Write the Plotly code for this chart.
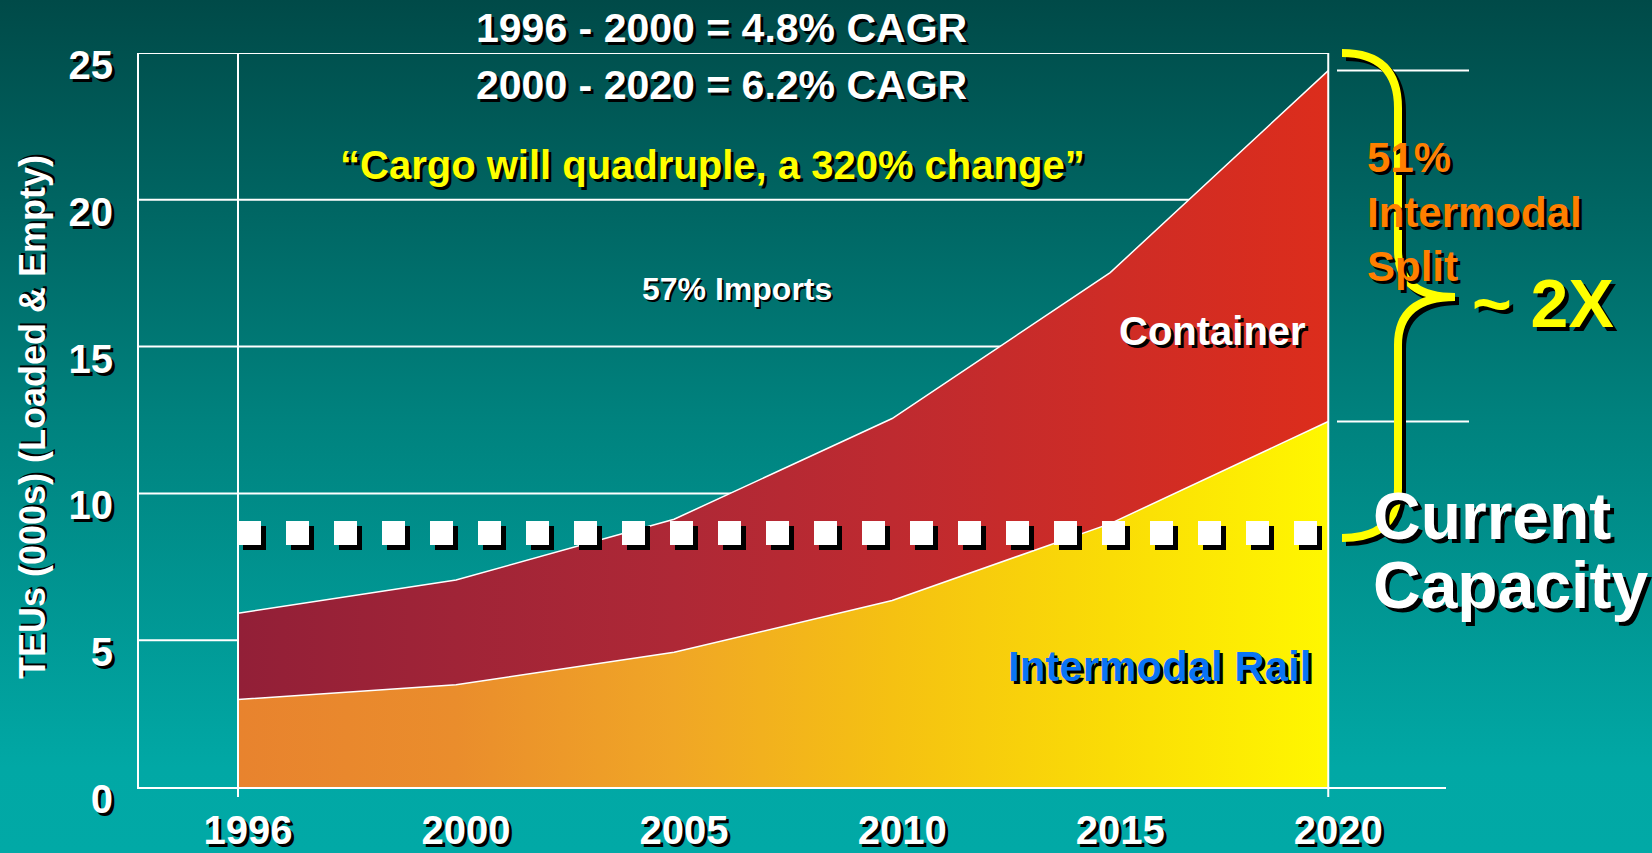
import base64
import plotly.graph_objects as go

# ---------------- data ----------------
years = ["1996", "2000", "2005", "2010", "2015", "2020"]
intermodal_rail = [2.98, 3.48, 4.59, 6.35, 8.97, 12.45]      # lower band (stack base)
container_total = [5.92, 7.05, 9.12, 12.55, 17.52, 24.40]     # top of stack
current_capacity = 8.65
y_ticks = [0, 5, 10, 15, 20, 25]

# ---------------- geometry helpers ----------------
W, H = 1652, 853
def px(x):
    return x / W
def py(y):
    return 1 - y / H

X_RANGE = [-0.454, 5.54]
Y_RANGE = [0, 25]
X_PX_PER_UNIT = (1446 - 139) / (X_RANGE[1] - X_RANGE[0])
Y_PX_PER_UNIT = (787 - 53) / (Y_RANGE[1] - Y_RANGE[0])

ARIAL = "Liberation Sans, Arial, Helvetica, sans-serif"
SH3 = "3px 3px 0px #000000"
SH4 = "4px 4px 0px #000000"

fig = go.Figure()

# ---------------- area traces ----------------
fig.add_trace(go.Scatter(
    x=years, y=intermodal_rail, mode="lines",
    line=dict(color="white", width=1.5),
    fill="tozeroy",
    fillgradient=dict(type="horizontal", colorscale=[
        [0.0, "#E8832E"], [0.2, "#EA8D2C"], [0.4, "#F0A626"],
        [0.6, "#F5C112"], [0.8, "#FADC06"], [1.0, "#FFF700"]]),
    hoverinfo="skip", showlegend=False))

fig.add_trace(go.Scatter(
    x=years, y=container_total, mode="lines",
    line=dict(color="white", width=1.5),
    fill="tonexty",
    fillgradient=dict(type="horizontal", colorscale=[
        [0.0, "#921F37"], [0.2, "#A02437"], [0.4, "#AE2836"],
        [0.6, "#BE2A30"], [0.8, "#CE2C26"], [1.0, "#DC2D1C"]]),
    hoverinfo="skip", showlegend=False))

# ---------------- background gradient ----------------
svg = (f'<svg xmlns="http://www.w3.org/2000/svg" width="{W}" height="{H}" preserveAspectRatio="none">'
       '<defs><linearGradient id="g" x1="0" y1="0" x2="0" y2="1">'
       '<stop offset="0" stop-color="#004A48"/>'
       '<stop offset="0.5" stop-color="#00837F"/>'
       '<stop offset="0.9" stop-color="#01A8A5"/>'
       '<stop offset="1" stop-color="#01A9A6"/>'
       '</linearGradient></defs>'
       '<rect width="100%" height="100%" fill="url(#g)"/></svg>')
src = "data:image/svg+xml;base64," + base64.b64encode(svg.encode()).decode()
fig.add_layout_image(dict(source=src, xref="paper", yref="paper", x=0, y=1,
                          sizex=1, sizey=1, xanchor="left", yanchor="top",
                          sizing="stretch", layer="below"))

shapes = []
last = len(years) - 1
# horizontal gridlines (below areas)
for v in y_ticks[1:]:
    shapes.append(dict(type="line", xref="x", yref="y", x0=X_RANGE[0], x1=last,
                       y0=v, y1=v, line=dict(color="white", width=2), layer="below"))
# vertical boundary lines at first / last year, with tick below axis
for i in (0, last):
    shapes.append(dict(type="line", xref="x", yref="paper", x0=i, x1=i,
                       y0=py(797), y1=py(53), line=dict(color="white", width=2), layer="above"))
# short markers right of 2020
for v in (container_total[-1], intermodal_rail[-1]):
    shapes.append(dict(type="line", xref="paper", yref="y", x0=px(1337), x1=px(1469),
                       y0=v, y1=v, line=dict(color="white", width=2), layer="above"))
# current capacity dashed line with shadow
dx = 5 / X_PX_PER_UNIT
dy = 5 / Y_PX_PER_UNIT
shapes.append(dict(type="line", xref="x", yref="y", x0=0 + dx, x1=last + dx,
                   y0=current_capacity - dy, y1=current_capacity - dy,
                   line=dict(color="black", width=24, dash="23px,25px"), layer="above"))
shapes.append(dict(type="line", xref="x", yref="y", x0=0, x1=last,
                   y0=current_capacity, y1=current_capacity,
                   line=dict(color="white", width=24, dash="23px,25px"), layer="above"))

# curly brace
def brace_path(ox=0, oy=0):
    pts = [
        ("M", [(1342, 53)]),
        ("Q", [(1398, 53), (1398, 108)]),
        ("L", [(1398, 250)]),
        ("Q", [(1398, 297), (1455, 297)]),
        ("Q", [(1398, 297), (1398, 345)]),
        ("L", [(1398, 488)]),
        ("Q", [(1398, 538), (1342, 538)]),
    ]
    s = ""
    for cmd, ps in pts:
        s += cmd + " " + " ".join(f"{px(x + ox):.5f},{py(y + oy):.5f}" for x, y in ps) + " "
    return s.strip()

shapes.append(dict(type="path", xref="paper", yref="paper", path=brace_path(4, 4),
                   line=dict(color="black", width=8), layer="above"))
shapes.append(dict(type="path", xref="paper", yref="paper", path=brace_path(),
                   line=dict(color="#FFFF00", width=8), layer="above"))

# ---------------- annotations ----------------
def ann(text, x, y, size, color="white", family=ARIAL, shadow=SH3,
        xanchor="center", yanchor="middle", textangle=0, align="center"):
    return dict(text=text, x=px(x), y=py(y), xref="paper", yref="paper",
                showarrow=False, xanchor=xanchor, yanchor=yanchor, textangle=textangle,
                align=align,
                font=dict(family=family, size=size, color=color, weight="bold", shadow=shadow))

annotations = [
    ann("1996 - 2000 = 4.8% CAGR", 721, 28, 41),
    ann("2000 - 2020 = 6.2% CAGR", 721, 85, 41),
    ann("\u201cCargo will quadruple, a 320% change\u201d", 712, 165, 40, color="#FFFF00"),
    ann("57% Imports", 737, 289, 32, shadow="2px 2px 0px #000000"),
    ann("Container", 1212, 331, 40),
    ann("Intermodal Rail", 1159, 666, 42, color="#0A74F5"),
    ann("51%<br>Intermodal<br>Split", 1365, 212, 42, color="#FF7F00",
        xanchor="left", align="left"),
    ann("~ 2X", 1543, 303, 68, color="#FFFF00", shadow=SH4),
    ann("Current", 1371, 516, 66, shadow=SH4, xanchor="left"),
    ann("Capacity", 1371, 585, 66, shadow=SH4, xanchor="left"),
    ann("TEUs (000s) (Loaded & Empty)", 32, 417, 36,
        shadow="2px 2px 0px #000000", textangle=-90),
]

fig.update_layout(
    width=W, height=H,
    margin=dict(l=0, r=0, t=0, b=0),
    paper_bgcolor="#00837F",
    plot_bgcolor="rgba(0,0,0,0)",
    showlegend=False,
    shapes=shapes,
    annotations=annotations,
    xaxis=dict(
        type="category", domain=[px(139), px(1446)], range=X_RANGE,
        showgrid=False, zeroline=False, showline=True, linecolor="white", linewidth=2,
        ticks="", tickfont=dict(family=ARIAL, size=40, color="white", weight="bold", shadow=SH3),
        ticklabelshift=10, ticklabelstandoff=7, automargin=False, fixedrange=True),
    yaxis=dict(
        domain=[py(787), py(53)], range=Y_RANGE, tickvals=y_ticks,
        showgrid=False, zeroline=False, showline=True, linecolor="white", linewidth=2,
        ticks="", tickfont=dict(family=ARIAL, size=40, color="white", weight="bold", shadow=SH3),
        ticklabelshift=12, ticklabelstandoff=16, automargin=False, fixedrange=True),
)

fig.write_html("out.html",
               config={"displayModeBar": False, "staticPlot": True},
               post_script="document.body.style.margin='0px';document.body.style.overflow='hidden';")
